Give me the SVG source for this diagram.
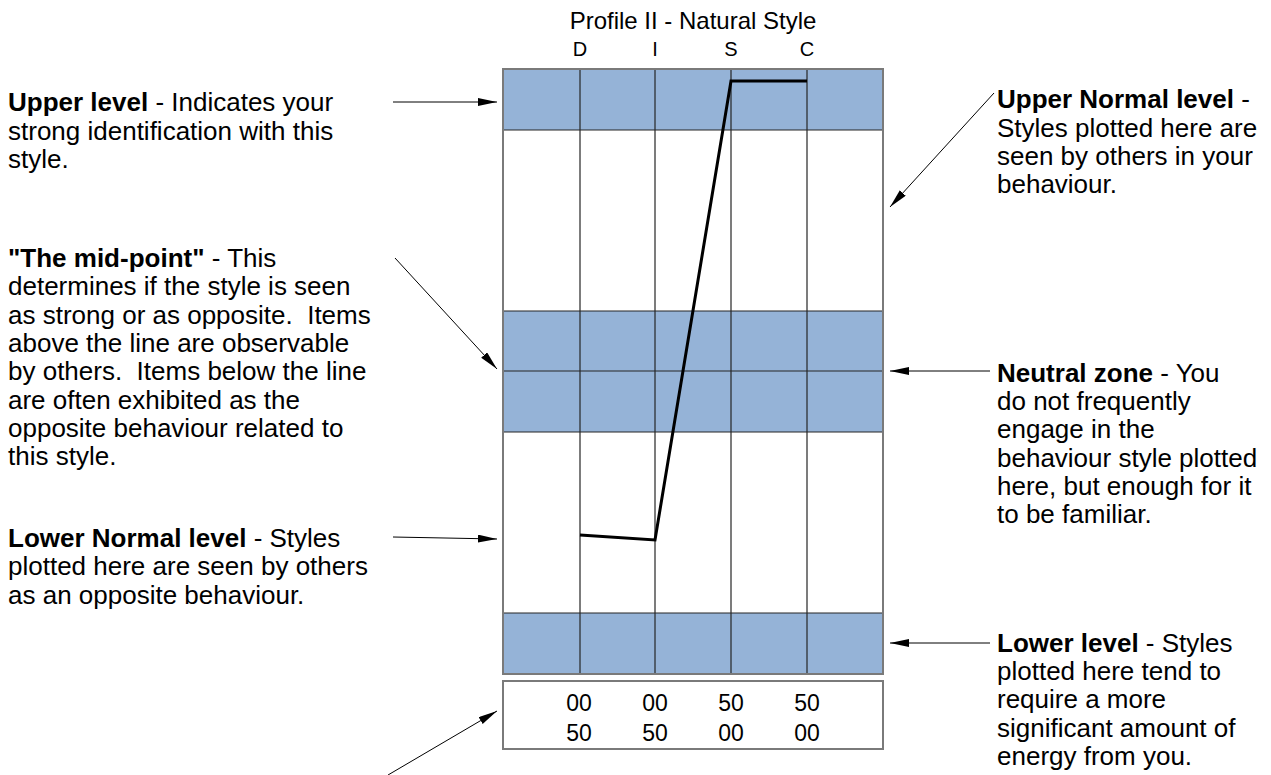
<svg xmlns="http://www.w3.org/2000/svg" width="1271" height="775" viewBox="0 0 1271 775">
<style>
text{font-family:"Liberation Sans",Arial,sans-serif;fill:#000}
.t{font-size:26px}
.b{font-weight:bold}
.band{fill:#95B3D7}
.grid{stroke:#262626;stroke-width:1.2;fill:none}
.frame{stroke:#7a7a7a;stroke-width:2;fill:none}
.con{stroke:#000;stroke-width:1;fill:none;marker-end:url(#ah)}
.val{font-size:23px;text-anchor:middle}
.lbl{font-size:20px;text-anchor:middle}
</style>
<defs>
<marker id="ah" markerUnits="userSpaceOnUse" markerWidth="20" markerHeight="10" refX="19" refY="4" orient="auto">
<path d="M0,0 L19,4 L0,8 z" fill="#000"/>
</marker>
</defs>
<rect width="1271" height="775" fill="#fff"/>

<g id="title">
<text x="693" y="29" font-size="24" text-anchor="middle">Profile II - Natural Style</text>
<text class="lbl" x="580" y="56">D</text>
<text class="lbl" x="655" y="56">I</text>
<text class="lbl" x="731" y="56">S</text>
<text class="lbl" x="807" y="56">C</text>
</g>

<g id="chart">
<rect class="band" x="503" y="69" width="380" height="61"/>
<rect class="band" x="503" y="311" width="380" height="121"/>
<rect class="band" x="503" y="613" width="380" height="61"/>
<path class="grid" d="M503,130H883M503,311H883M503,371H883M503,432H883M503,613H883M580,69V674M655,69V674M731,69V674M807,69V674"/>
<rect class="frame" x="503" y="69" width="380" height="605"/>
<polyline points="580,535 655,540 731,81 807,81" fill="none" stroke="#000" stroke-width="3" stroke-linejoin="miter"/>
</g>

<g id="values">
<rect class="frame" x="503" y="681" width="380" height="68"/>
<text class="val" x="579" y="711">00</text>
<text class="val" x="655" y="711">00</text>
<text class="val" x="731" y="711">50</text>
<text class="val" x="807" y="711">50</text>
<text class="val" x="579" y="741">50</text>
<text class="val" x="655" y="741">50</text>
<text class="val" x="731" y="741">00</text>
<text class="val" x="807" y="741">00</text>
</g>

<g id="upper-level">
<text class="t" x="8" y="111"><tspan class="b">Upper level</tspan> - Indicates your</text>
<text class="t" x="8" y="139.5">strong identification with this</text>
<text class="t" x="8" y="168">style.</text>
</g>

<g id="mid-point">
<text class="t" x="8" y="267"><tspan class="b">"The mid-point"</tspan> - This</text>
<text class="t" x="8" y="295.3">determines if the style is seen</text>
<text class="t" x="8" y="323.6" xml:space="preserve">as strong or as opposite.  Items</text>
<text class="t" x="8" y="351.9">above the line are observable</text>
<text class="t" x="8" y="380.2" xml:space="preserve">by others.  Items below the line</text>
<text class="t" x="8" y="408.5">are often exhibited as the</text>
<text class="t" x="8" y="436.8">opposite behaviour related to</text>
<text class="t" x="8" y="465.1">this style.</text>
</g>

<g id="lower-normal-level">
<text class="t" x="8" y="547"><tspan class="b">Lower Normal level</tspan> - Styles</text>
<text class="t" x="8" y="575.3">plotted here are seen by others</text>
<text class="t" x="8" y="603.6">as an opposite behaviour.</text>
</g>

<g id="upper-normal-level">
<text class="t" x="997" y="108.3"><tspan class="b">Upper Normal level</tspan> -</text>
<text class="t" x="997" y="136.6">Styles plotted here are</text>
<text class="t" x="997" y="164.9">seen by others in your</text>
<text class="t" x="997" y="193.2">behaviour.</text>
</g>

<g id="neutral-zone">
<text class="t" x="997" y="381.7"><tspan class="b">Neutral zone</tspan> - You</text>
<text class="t" x="997" y="410">do not frequently</text>
<text class="t" x="997" y="438.3">engage in the</text>
<text class="t" x="997" y="466.6">behaviour style plotted</text>
<text class="t" x="997" y="494.9">here, but enough for it</text>
<text class="t" x="997" y="523.2">to be familiar.</text>
</g>

<g id="lower-level">
<text class="t" x="997" y="651.7"><tspan class="b">Lower level</tspan> - Styles</text>
<text class="t" x="997" y="680">plotted here tend to</text>
<text class="t" x="997" y="708.3">require a more</text>
<text class="t" x="997" y="736.6">significant amount of</text>
<text class="t" x="997" y="764.9">energy from you.</text>
</g>

<g id="connectors">
<line class="con" x1="393" y1="102" x2="497" y2="102"/>
<line class="con" x1="994" y1="93" x2="890" y2="207"/>
<line class="con" x1="395" y1="258" x2="497" y2="369"/>
<line class="con" x1="990" y1="371" x2="890" y2="371"/>
<line class="con" x1="393" y1="537" x2="497" y2="539"/>
<line class="con" x1="990" y1="643" x2="890" y2="643"/>
<line class="con" x1="388" y1="775" x2="497" y2="711"/>
</g>
</svg>
